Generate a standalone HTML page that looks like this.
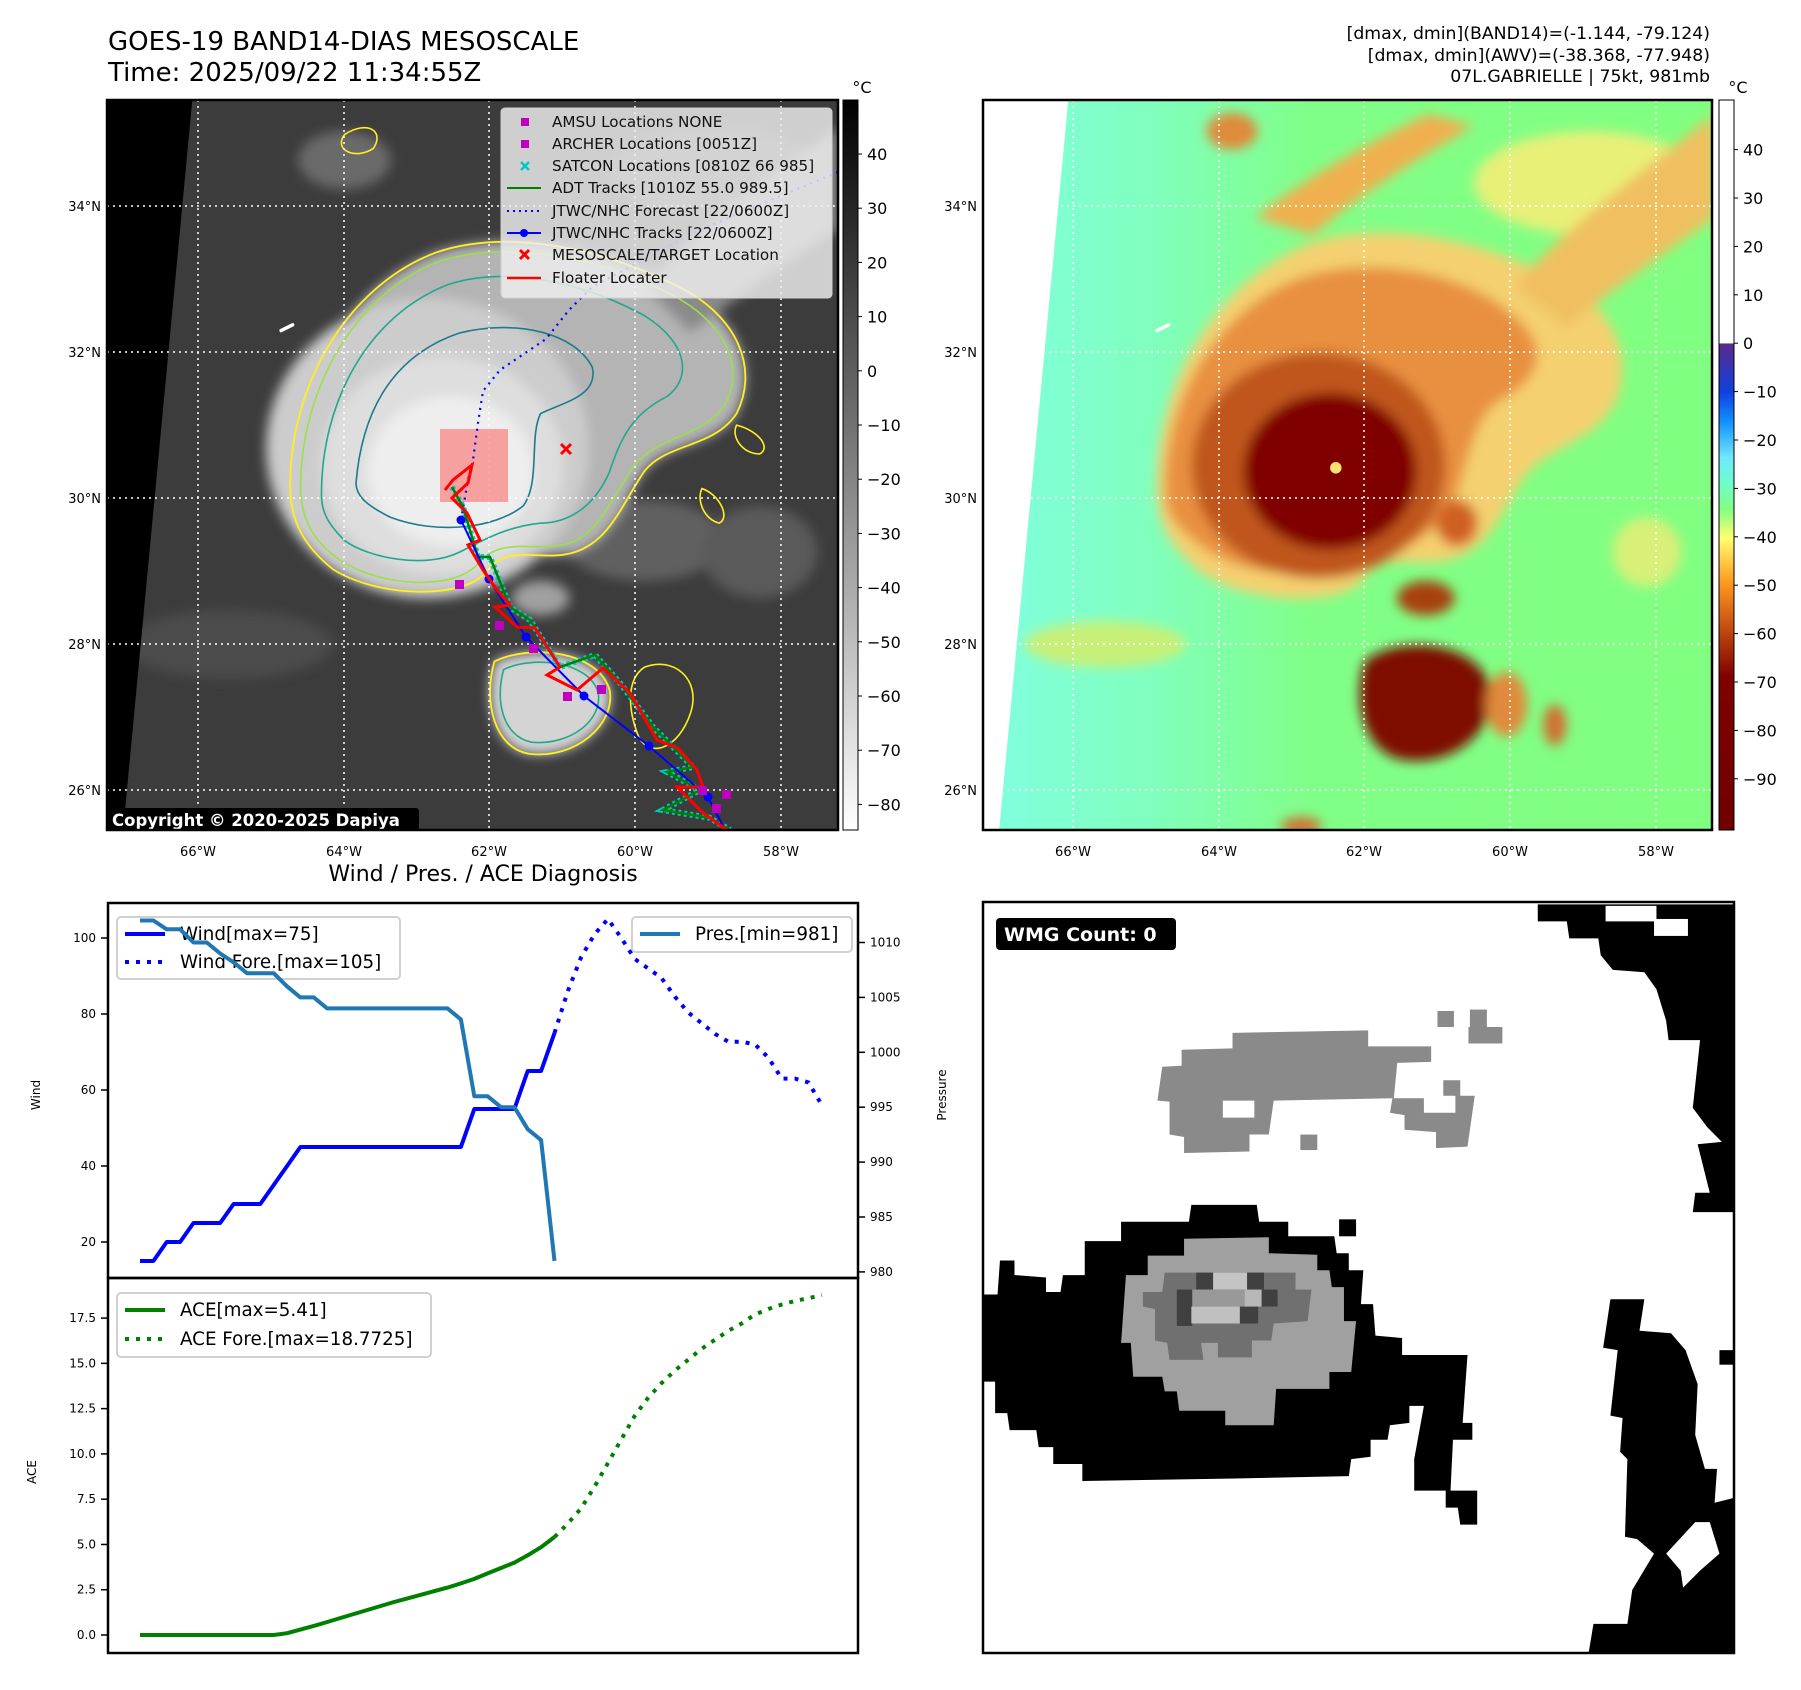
<!DOCTYPE html>
<html><head><meta charset="utf-8">
<style>
html,body{margin:0;padding:0;background:#fff;}
body{width:1801px;height:1690px;overflow:hidden;font-family:"DejaVu Sans","Liberation Sans",sans-serif;}
svg{position:absolute;left:0;top:0;}
text{font-family:"DejaVu Sans","Liberation Sans",sans-serif;}
</style></head>
<body>
<svg id="fig" width="1801" height="1690" viewBox="0 0 1801 1690">
<defs>
  <clipPath id="clipL"><rect x="107" y="100" width="731" height="730"/></clipPath>
  <clipPath id="clipR"><rect x="983" y="100" width="729" height="730"/></clipPath>
  <filter id="blur6" x="-20%" y="-20%" width="140%" height="140%"><feGaussianBlur stdDeviation="5"/></filter>
  <linearGradient id="cbL" x1="0" y1="0" x2="0" y2="1">
    <stop offset="0" stop-color="#000"/><stop offset="1" stop-color="#fff"/>
  </linearGradient>
  <linearGradient id="cbR" x1="0" y1="0" x2="0" y2="1">
    <stop offset="0" stop-color="#fff"/><stop offset="0.333" stop-color="#fff"/>
    <stop offset="0.334" stop-color="#5a2a8a"/>
    <stop offset="0.40" stop-color="#1040e0"/>
    <stop offset="0.44" stop-color="#1090ff"/>
    <stop offset="0.49" stop-color="#70e8ff"/>
    <stop offset="0.53" stop-color="#70ffc0"/>
    <stop offset="0.56" stop-color="#80ff80"/>
    <stop offset="0.60" stop-color="#ffff70"/>
    <stop offset="0.66" stop-color="#ff9a20"/>
    <stop offset="0.72" stop-color="#c85010"/>
    <stop offset="0.79" stop-color="#800000"/>
    <stop offset="1" stop-color="#700000"/>
  </linearGradient>
  <linearGradient id="cyanWash" x1="0" y1="0" x2="1" y2="0">
    <stop offset="0" stop-color="#80ffe0"/><stop offset="0.22" stop-color="#80ffc0"/><stop offset="0.45" stop-color="#80ff88"/><stop offset="1" stop-color="#80ff80"/>
  </linearGradient>
</defs>

<!-- Titles -->
<text x="108" y="50" font-size="26">GOES-19 BAND14-DIAS MESOSCALE</text>
<text x="108" y="81" font-size="26">Time: 2025/09/22 11:34:55Z</text>
<g font-size="17.3" text-anchor="end">
  <text x="1710" y="39">[dmax, dmin](BAND14)=(-1.144, -79.124)</text>
  <text x="1710" y="61">[dmax, dmin](AWV)=(-38.368, -77.948)</text>
  <text x="1710" y="82">07L.GABRIELLE | 75kt, 981mb</text>
</g>

<!-- LEFT MAP -->
<g>
<g clip-path="url(#clipL)">
  <rect x="107" y="100" width="731" height="730" fill="#3c3c3c"/>
  <g transform="translate(107,100) scale(1.153) translate(-94,-88)">
    <g filter="url(#blur6)">
      <ellipse cx="560" cy="470" rx="70" ry="35" fill="#606060"/>
      <ellipse cx="660" cy="480" rx="50" ry="40" fill="#5a5a5a"/>
      <ellipse cx="620" cy="150" rx="90" ry="40" fill="#555"/>
      <ellipse cx="200" cy="560" rx="90" ry="30" fill="#4c4c4c"/>
      <ellipse cx="300" cy="140" rx="40" ry="25" fill="#6a6a6a"/>
      <path d="M253,430 C250,340 300,250 380,220 C440,200 520,215 590,250 C640,275 660,320 640,360 C620,390 580,385 560,410 C540,440 530,470 500,480 C470,490 440,470 420,500 C400,520 330,520 290,495 C265,475 255,455 253,430 Z" fill="#b4b4b4"/>
      <path d="M560,250 C600,200 680,150 728,110 L728,200 C680,230 640,260 600,290 Z" fill="#8a8a8a"/>
      <ellipse cx="372" cy="390" rx="140" ry="130" fill="#cccccc"/>
      <ellipse cx="385" cy="405" rx="105" ry="95" fill="#dedede"/>
      <ellipse cx="392" cy="410" rx="72" ry="65" fill="#eeeeee"/>
      <path d="M430,575 C460,560 520,565 530,600 C535,630 500,660 460,655 C430,650 420,610 430,575 Z" fill="#d4d4d4"/>
      <ellipse cx="470" cy="520" rx="25" ry="15" fill="#a0a0a0"/>
    </g>
    <path d="M253,430 C250,340 300,250 380,220 C440,200 520,215 590,250 C640,275 660,320 640,360 C620,390 580,385 560,410 C540,440 530,470 500,480 C470,490 440,470 420,500 C400,520 330,520 290,495 C265,475 255,455 253,430 Z" fill="none" stroke="#ffee20" stroke-width="1.6"/>
    <path d="M262,430 C260,345 305,258 382,228 C440,210 515,222 582,256 C630,280 648,320 630,352 C612,380 575,378 552,404 C532,432 522,462 496,472 C466,482 436,464 414,492 C394,512 335,512 296,487 C272,470 264,452 262,430 Z" fill="none" stroke="#9be04a" stroke-width="1.4"/>
    <path d="M280,430 C280,350 320,275 390,248 C440,232 505,245 560,275 C600,300 600,330 580,345 C550,360 540,380 530,410 C515,445 490,455 470,455 C440,458 420,470 400,480 C370,495 320,485 300,470 C285,455 280,445 280,430 Z" fill="none" stroke="#22a88a" stroke-width="1.4"/>
    <path d="M310,420 C315,360 340,310 400,290 C450,278 500,290 515,320 C520,345 490,350 470,360 C460,380 470,420 455,440 C430,460 380,465 340,450 C320,440 310,432 310,420 Z" fill="none" stroke="#1f7a8c" stroke-width="1.4"/>
    <path d="M430,575 C460,560 520,565 530,600 C535,630 500,660 460,655 C430,650 420,610 430,575 Z" fill="none" stroke="#ffee20" stroke-width="1.6"/>
    <path d="M438,582 C462,570 512,574 520,602 C524,626 496,648 462,645 C438,640 430,610 438,582 Z" fill="none" stroke="#22a88a" stroke-width="1.4"/>
    <path d="M300,118 C320,105 335,115 325,130 C310,140 290,132 300,118 Z" fill="none" stroke="#ffee20" stroke-width="1.4"/>
    <path d="M640,370 C660,375 670,390 660,395 C645,395 635,380 640,370 Z" fill="none" stroke="#ffee20" stroke-width="1.4"/>
    <path d="M610,425 C625,430 635,450 625,455 C612,452 605,435 610,425 Z" fill="none" stroke="#ffee20" stroke-width="1.4"/>
    <path d="M560,580 C585,570 610,590 600,620 C590,650 565,660 555,640 C545,615 545,590 560,580 Z" fill="none" stroke="#ffee20" stroke-width="1.4"/>
    <path d="M245,288 l10,-5" stroke="#fff" stroke-width="3" stroke-linecap="round"/>
    <polygon points="94,88 168,88 108,721 94,721" fill="#000"/>
  </g>
  <g stroke="#fff" stroke-width="1.5" stroke-dasharray="2,4">
    <line x1="198" y1="100" x2="198" y2="830"/><line x1="344" y1="100" x2="344" y2="830"/>
    <line x1="489" y1="100" x2="489" y2="830"/><line x1="635" y1="100" x2="635" y2="830"/>
    <line x1="781" y1="100" x2="781" y2="830"/>
    <line x1="107" y1="206" x2="838" y2="206"/><line x1="107" y1="352" x2="838" y2="352"/>
    <line x1="107" y1="498" x2="838" y2="498"/><line x1="107" y1="644" x2="838" y2="644"/>
    <line x1="107" y1="790" x2="838" y2="790"/>
  </g>
  <rect x="440" y="429" width="68" height="73" fill="#ff6060" fill-opacity="0.55"/>
  <polyline points="838,172 700,230 592,287 569,310 546,339 500,370 483,391 478,423 473,460 468,480 465,497 461,520" fill="none" stroke="#0000ff" stroke-width="2.2" stroke-dasharray="2,5"/>
  <polyline points="452,487 463,507 478,557 490,557 510,607 530,620 560,667 595,655 620,683 653,727 693,767 667,772 700,790 663,810 710,818 730,830" fill="none" stroke="#00c8c8" stroke-width="6" stroke-dasharray="3,3"/>
  <polyline points="452,487 463,507 478,557 490,557 510,607 530,620 560,667 595,655 620,683 653,727 693,767 667,772 700,790 663,810 710,818 730,830" fill="none" stroke="#008000" stroke-width="2.5"/>
  <polyline points="461,520 489,579 526,637 584,696 649,746 708,797 725,830" fill="none" stroke="#0000ff" stroke-width="2"/>
  <g fill="#0000ff">
    <circle cx="461" cy="520" r="4.5"/><circle cx="489" cy="579" r="4.5"/><circle cx="526" cy="637" r="4.5"/>
    <circle cx="584" cy="696" r="4.5"/><circle cx="649" cy="746" r="4.5"/><circle cx="708" cy="797" r="4.5"/>
  </g>
  <polyline points="445,490 453,480 472,465 468,483 452,498 467,513 480,540 468,545 483,570 497,590 510,605 495,607 517,627 535,628 560,667 547,675 577,690 603,668 630,693 657,740 678,748 697,770 703,787 677,787 703,813 727,830" fill="none" stroke="#ff0000" stroke-width="3"/>
  <g fill="#c000c0">
    <rect x="455" y="580" width="9" height="9"/><rect x="495" y="621" width="9" height="9"/><rect x="529" y="644" width="9" height="9"/>
    <rect x="563" y="692" width="9" height="9"/><rect x="597" y="685" width="9" height="9"/><rect x="712" y="804" width="9" height="9"/>
    <rect x="722" y="790" width="9" height="9"/><rect x="698" y="786" width="9" height="9"/>
  </g>
  <g stroke="#ff0000" stroke-width="3">
    <line x1="561" y1="444" x2="571" y2="454"/><line x1="571" y1="444" x2="561" y2="454"/>
  </g>
  <g>
    <rect x="501" y="108" width="331" height="190" rx="4" fill="#efefef" fill-opacity="0.82" stroke="#d0d0d0"/>
    <rect x="521" y="118" width="8" height="8" fill="#c000c0"/>
    <rect x="521" y="140" width="8" height="8" fill="#c000c0"/>
    <g stroke="#00c8c8" stroke-width="2.5"><line x1="521" y1="162" x2="529" y2="170"/><line x1="529" y1="162" x2="521" y2="170"/></g>
    <line x1="507" y1="188" x2="541" y2="188" stroke="#008000" stroke-width="2"/>
    <line x1="507" y1="211" x2="541" y2="211" stroke="#0000ff" stroke-width="2" stroke-dasharray="2,4"/>
    <line x1="507" y1="233" x2="541" y2="233" stroke="#0000ff" stroke-width="2"/><circle cx="524" cy="233" r="4" fill="#0000ff"/>
    <g stroke="#ff0000" stroke-width="3"><line x1="520" y1="250" x2="529" y2="259"/><line x1="529" y1="250" x2="520" y2="259"/></g>
    <line x1="507" y1="278" x2="541" y2="278" stroke="#ff0000" stroke-width="2.5"/>
    <g font-size="15.2" fill="#111">
      <text x="552" y="127">AMSU Locations NONE</text>
      <text x="552" y="149">ARCHER Locations [0051Z]</text>
      <text x="552" y="171">SATCON Locations [0810Z 66 985]</text>
      <text x="552" y="193">ADT Tracks [1010Z 55.0 989.5]</text>
      <text x="552" y="216">JTWC/NHC Forecast [22/0600Z]</text>
      <text x="552" y="238">JTWC/NHC Tracks [22/0600Z]</text>
      <text x="552" y="260">MESOSCALE/TARGET Location</text>
      <text x="552" y="283">Floater Locater</text>
    </g>
  </g>
  <g>
    <rect x="107" y="808" width="312" height="24" rx="3" fill="#000"/>
    <text x="112" y="826" font-size="16.5" font-weight="bold" fill="#fff">Copyright © 2020-2025 Dapiya</text>
  </g>
</g>
<rect x="107" y="100" width="731" height="730" fill="none" stroke="#000" stroke-width="2.5"/>
<g font-size="13" text-anchor="end">
  <text x="101" y="211">34°N</text><text x="101" y="357">32°N</text><text x="101" y="503">30°N</text><text x="101" y="649">28°N</text><text x="101" y="795">26°N</text>
</g>
<g font-size="13" text-anchor="middle">
  <text x="198" y="856">66°W</text><text x="344" y="856">64°W</text><text x="489" y="856">62°W</text><text x="635" y="856">60°W</text><text x="781" y="856">58°W</text>
</g>
</g>

<g>
  <rect x="843" y="100" width="15" height="730" fill="url(#cbL)" stroke="#000" stroke-width="1"/>
  <text x="862" y="93" font-size="16" text-anchor="middle">°C</text>
  <g font-size="16" id="cbLticks"></g>
</g>

<!-- RIGHT MAP -->
<g>
<g clip-path="url(#clipR)">
  <rect x="983" y="100" width="729" height="730" fill="url(#cyanWash)"/>
  <g transform="translate(983,100) scale(1.153) translate(-94,-88)">
    <g filter="url(#blur6)">
      <ellipse cx="200" cy="560" rx="70" ry="20" fill="#c8f078"/>
      <ellipse cx="620" cy="160" rx="100" ry="45" fill="#e8f078"/>
      <ellipse cx="670" cy="480" rx="30" ry="30" fill="#d8f078"/>
      <path d="M245,430 C242,335 295,245 378,212 C440,192 522,207 594,244 C646,270 660,318 640,355 C620,385 584,390 564,414 C544,444 534,476 502,486 C470,496 442,476 422,506 C402,526 330,526 286,500 C258,478 246,458 245,430 Z" fill="#f4d070"/>
      <path d="M555,250 C600,195 680,140 728,100 L728,190 C680,225 640,252 600,285 Z" fill="#f0c060"/>
      <path d="M330,190 C380,150 440,120 480,100 L520,110 C470,140 420,170 380,205 Z" fill="#f0b050"/>
      <path d="M252,430 C250,345 300,265 375,240 C440,222 520,240 560,280 C590,310 570,335 540,350 C520,365 515,400 505,430 C490,470 450,480 420,490 C380,505 320,500 290,480 C265,462 253,450 252,430 Z" fill="#e89040"/>
      <ellipse cx="385" cy="405" rx="110" ry="98" fill="#c0561c"/>
      <ellipse cx="395" cy="410" rx="75" ry="68" fill="#800000"/>
      <path d="M425,575 C455,550 525,558 534,598 C540,636 500,668 456,660 C424,652 414,610 425,575 Z" fill="#7e1000"/>
      <ellipse cx="478" cy="520" rx="25" ry="15" fill="#a84010"/>
      <ellipse cx="505" cy="455" rx="18" ry="20" fill="#d06020"/>
      <ellipse cx="548" cy="612" rx="18" ry="28" fill="#e08a3a"/>
      <ellipse cx="590" cy="630" rx="10" ry="18" fill="#d07030"/>
      <ellipse cx="310" cy="115" rx="22" ry="16" fill="#e08a3a"/>
      <ellipse cx="370" cy="718" rx="18" ry="8" fill="#d07030"/>
    </g>
    <circle cx="400" cy="407" r="5" fill="#ffe070"/>
    <path d="M245,288 l10,-5" stroke="#fff" stroke-width="3" stroke-linecap="round"/>
    <polygon points="94,88 168,88 108,721 94,721" fill="#fff"/>
  </g>
  <g stroke="#fff" stroke-width="1.5" stroke-dasharray="2,4">
    <line x1="1073" y1="100" x2="1073" y2="830"/><line x1="1219" y1="100" x2="1219" y2="830"/>
    <line x1="1364" y1="100" x2="1364" y2="830"/><line x1="1510" y1="100" x2="1510" y2="830"/>
    <line x1="1656" y1="100" x2="1656" y2="830"/>
    <line x1="983" y1="206" x2="1712" y2="206"/><line x1="983" y1="352" x2="1712" y2="352"/>
    <line x1="983" y1="498" x2="1712" y2="498"/><line x1="983" y1="644" x2="1712" y2="644"/>
    <line x1="983" y1="790" x2="1712" y2="790"/>
  </g>
</g>
<rect x="983" y="100" width="729" height="730" fill="none" stroke="#000" stroke-width="2.5"/>
<g font-size="13" text-anchor="end">
  <text x="977" y="211">34°N</text><text x="977" y="357">32°N</text><text x="977" y="503">30°N</text><text x="977" y="649">28°N</text><text x="977" y="795">26°N</text>
</g>
<g font-size="13" text-anchor="middle">
  <text x="1073" y="856">66°W</text><text x="1219" y="856">64°W</text><text x="1364" y="856">62°W</text><text x="1510" y="856">60°W</text><text x="1656" y="856">58°W</text>
</g>
</g>
<g>
  <rect x="1719" y="100" width="15" height="730" fill="url(#cbR)" stroke="#000" stroke-width="1"/>
  <text x="1738" y="93" font-size="16" text-anchor="middle">°C</text>
  <g font-size="16" id="cbRticks"></g>
</g>

<!-- BOTTOM LEFT CHART -->
<text x="483" y="881" font-size="22" text-anchor="middle">Wind / Pres. / ACE Diagnosis</text>
<g id="chart"></g>

<!-- BOTTOM RIGHT PANEL -->
<g>
  <rect x="983" y="902" width="751" height="751" fill="#fff"/>
  <g transform="translate(983,902) scale(0.4845)">
    <polygon fill="#000" points="1145,5 1550,5 1550,640 1465,640 1470,600 1500,600 1475,500 1525,495 1495,465 1465,425 1480,285 1415,285 1410,245 1390,180 1365,145 1300,140 1275,110 1270,75 1210,75 1205,40 1145,40"/>
    <rect x="1285" y="8" width="105" height="32" fill="#fff"/><rect x="1385" y="35" width="70" height="35" fill="#fff"/>
    <polygon fill="#000" points="1295,820 1365,820 1355,885 1420,890 1450,925 1475,995 1470,1100 1490,1170 1515,1170 1510,1240 1550,1230 1550,1550 1250,1550 1260,1490 1330,1490 1340,1420 1385,1345 1350,1315 1325,1310 1330,1150 1315,1135 1320,1065 1295,1060 1310,925 1280,920"/>
    <polygon fill="#fff" points="1410,1345 1470,1280 1500,1280 1520,1345 1480,1380 1445,1415 1440,1380"/>
    <rect x="1520" y="925" width="30" height="30" fill="#000"/>
    <polygon fill="#000" points="0,810 30,810 35,740 65,740 65,770 130,775 130,805 160,805 165,770 210,770 210,700 285,700 285,660 425,660 430,625 565,625 570,660 630,660 630,690 725,690 730,725 755,725 755,760 785,760 780,830 805,830 810,895 865,900 865,935 1000,935 990,1075 1010,1075 1010,1110 970,1110 965,1215 1020,1215 1020,1285 985,1285 980,1250 955,1250 955,1215 890,1215 890,1150 910,1040 880,1040 880,1075 840,1080 835,1110 800,1110 800,1145 760,1150 755,1185 520,1190 205,1195 205,1160 145,1160 145,1125 115,1125 110,1090 55,1090 50,1055 25,1055 25,990 0,990"/>
    <rect x="735" y="655" width="35" height="35" fill="#000"/>
    <polygon fill="#a0a0a0" points="415,695 590,692 590,725 690,728 690,760 715,760 720,795 745,795 745,865 770,865 760,970 715,970 715,1005 605,1005 600,1080 500,1080 500,1050 405,1050 400,1010 375,1010 370,980 310,980 305,910 285,910 295,770 340,770 340,730 415,730"/>
    <polygon fill="#707070" points="375,765 645,765 645,800 678,800 670,865 600,870 595,905 555,905 555,940 485,940 485,910 450,910 455,945 385,945 380,910 355,905 355,840 330,835 330,805 370,805"/>
    <g fill="#404040"><rect x="440" y="765" width="35" height="35"/><rect x="545" y="765" width="35" height="35"/><rect x="400" y="800" width="32" height="75"/><rect x="575" y="800" width="33" height="35"/><rect x="530" y="835" width="38" height="35"/></g>
    <rect x="475" y="765" width="70" height="35" fill="#c4c4c4"/><rect x="430" y="835" width="100" height="35" fill="#c0c0c0"/>
    <rect x="432" y="800" width="108" height="35" fill="#999"/><rect x="540" y="800" width="35" height="35" fill="#b8b8b8"/>
    <polygon fill="#8a8a8a" points="515,270 795,265 795,298 925,298 925,330 855,332 848,405 910,405 910,435 975,435 975,400 950,400 950,368 985,368 985,400 1015,400 1000,505 935,508 935,475 870,470 870,440 840,435 845,405 600,410 590,480 550,480 550,515 415,518 415,485 385,480 385,412 360,410 370,340 410,338 410,305 515,302"/>
    <rect x="495" y="410" width="65" height="35" fill="#fff"/>
    <g fill="#8a8a8a"><rect x="938" y="225" width="34" height="33"/><rect x="1005" y="222" width="35" height="36"/><rect x="1002" y="258" width="70" height="34"/><rect x="655" y="480" width="35" height="32"/></g>
  </g>
  <rect x="983" y="902" width="751" height="751" fill="none" stroke="#000" stroke-width="2.5"/>
  <g>
    <rect x="996" y="918" width="180" height="32" rx="4" fill="#000"/>
    <text x="1004" y="941" font-size="19" font-weight="bold" fill="#fff">WMG Count: 0</text>
  </g>
</g>
</svg>

<script>
// ===== Chart data =====
var windObs = [15,15,20,20,25,25,25,30,30,30,35,40,45,45,45,45,45,45,45,45,45,45,45,45,45,55,55,55,55,65,65,75];
var windFcst = [75,86,95,101,105,100,94.5,92,89.5,84.6,80.4,77.6,74.8,72.7,72.7,72,68.5,63,63,62,56];
var presObs = [1012,1012,1011.2,1011.2,1010,1010,1009,1008.2,1007.2,1007.2,1007.2,1006,1005,1005,1004,1004,1004,1004,1004,1004,1004,1004,1004,1004,1003,996,996,995,995,993,992,981];
var aceObs = [0,0,0,0,0,0,0,0,0,0,0,0.1,0.3,0.5,0.72,0.94,1.16,1.38,1.6,1.82,2.02,2.22,2.42,2.62,2.85,3.1,3.4,3.7,4.0,4.4,4.85,5.41];
var aceFcst = [5.41,6.15,7.0,8.2,9.5,10.8,12.1,13.1,13.9,14.6,15.2,15.8,16.3,16.8,17.2,17.7,18.0,18.25,18.45,18.6,18.77];
var windTicks = [20,40,60,80,100];
var presTicks = [980,985,990,995,1000,1005,1010];
var aceTicks = [0,2.5,5,7.5,10,12.5,15,17.5];
var cbLeftTicks = [40,30,20,10,0,-10,-20,-30,-40,-50,-60,-70,-80];
var cbRightTicks = [40,30,20,10,0,-10,-20,-30,-40,-50,-60,-70,-80,-90];

var NS = 'http://www.w3.org/2000/svg';
function mk(tag, attrs, parent){var e=document.createElementNS(NS,tag);for(var k in attrs)e.setAttribute(k,attrs[k]);if(parent)parent.appendChild(e);return e;}

var L=108,R=858,T1=903,M=1278,B=1653;
function xI(i){return 140 + i*13.37;}
function yWind(v){return 938 + (100-v)*3.8;}
function yPres(v){return 942.5 + (1010-v)*10.98;}
function yAce(v){return 1635 - v*18.11;}
function yCbL(v){return 154 + (40-v)*5.42;}
function yCbR(v){return 149.6 + (40-v)*4.84;}
function pts(arr, off, yf){var s=[];for(var i=0;i<arr.length;i++)s.push(xI(i+off).toFixed(1)+','+yf(arr[i]).toFixed(1));return s.join(' ');}
function fmtM(v){return (v<0?'\u2212'+(-v):''+v);}

var gl=document.getElementById('cbLticks');
cbLeftTicks.forEach(function(v){
  var t=mk('line',{x1:858,x2:862,y1:yCbL(v),y2:yCbL(v),stroke:'#000','stroke-width':1},gl);
  
  
  var tx=mk('text',{x:867,y:yCbL(v)+6},gl);tx.textContent=fmtM(v);
  
  
});
var gr=document.getElementById('cbRticks');
cbRightTicks.forEach(function(v){
  var t=mk('line',{x1:1734,x2:1738,y1:yCbR(v),y2:yCbR(v),stroke:'#000','stroke-width':1},gr);
  
  
  var tx=mk('text',{x:1743,y:yCbR(v)+6},gr);tx.textContent=fmtM(v);
  
  
});

var g=document.getElementById('chart');
var f1=mk('rect',{x:L,y:T1,width:R-L,height:M-T1,fill:'#fff',stroke:'none'},g);


var f2=mk('rect',{x:L,y:M,width:R-L,height:B-M,fill:'#fff',stroke:'none'},g);



windTicks.forEach(function(v){
  var y=yWind(v);
  var t=mk('line',{x1:L-7,x2:L,y1:y,y2:y,stroke:'#000','stroke-width':1.5},g);
  
  
  var tx=mk('text',{x:L-12,y:y+4,'font-size':12,'text-anchor':'end'},g);tx.textContent=v;
  
  
});
presTicks.forEach(function(v){
  var y=yPres(v);
  var t=mk('line',{x1:R,x2:R+7,y1:y,y2:y,stroke:'#000','stroke-width':1.5},g);
  
  
  var tx=mk('text',{x:R+12,y:y+4,'font-size':12},g);tx.textContent=v;
  
  
});
aceTicks.forEach(function(v){
  var y=yAce(v);
  var t=mk('line',{x1:L-7,x2:L,y1:y,y2:y,stroke:'#000','stroke-width':1.5},g);
  
  
  var tx=mk('text',{x:L-12,y:y+4,'font-size':12,'text-anchor':'end'},g);tx.textContent=v.toFixed(1);
  
  
});
var yl1=mk('text',{x:0,y:0,'font-size':12,'text-anchor':'middle',transform:'translate(40,1095) rotate(-90)'},g);yl1.textContent='Wind';


var yl2=mk('text',{x:0,y:0,'font-size':12,'text-anchor':'middle',transform:'translate(946,1095) rotate(-90)'},g);yl2.textContent='Pressure';


var yl3=mk('text',{x:0,y:0,'font-size':12,'text-anchor':'middle',transform:'translate(36,1472) rotate(-90)'},g);yl3.textContent='ACE';



var wl=mk('polyline',{points:pts(windObs,0,yWind),fill:'none',stroke:'#0000ff','stroke-width':4,'stroke-linejoin':'round'},g);


var wf=mk('polyline',{points:pts(windFcst,windObs.length-1,yWind),fill:'none',stroke:'#0000ff','stroke-width':4,'stroke-dasharray':'4,7'},g);



var lg=mk('g',{},g);


mk('rect',{x:117,y:917,width:283,height:62,rx:4,fill:'#fff','fill-opacity':0.8,stroke:'#d0d0d0','stroke-width':2},lg);
mk('line',{x1:125,x2:165,y1:934,y2:934,stroke:'#0000ff','stroke-width':4},lg);
mk('line',{x1:125,x2:165,y1:962,y2:962,stroke:'#0000ff','stroke-width':4,'stroke-dasharray':'4,7'},lg);
var t1=mk('text',{x:180,y:940,'font-size':18.3},lg);t1.textContent='Wind[max=75]';
var t2=mk('text',{x:180,y:968,'font-size':18.3},lg);t2.textContent='Wind Fore.[max=105]';

var pl=mk('polyline',{points:pts(presObs,0,yPres),fill:'none',stroke:'#1f77b4','stroke-width':4,'stroke-linejoin':'round'},g);


var pg=mk('g',{},g);


mk('rect',{x:632,y:917,width:220,height:35,rx:4,fill:'#fff','fill-opacity':0.8,stroke:'#d0d0d0','stroke-width':2},pg);
mk('line',{x1:640,x2:680,y1:934,y2:934,stroke:'#1f77b4','stroke-width':4},pg);
var t3=mk('text',{x:695,y:940,'font-size':18.3},pg);t3.textContent='Pres.[min=981]';

var al=mk('polyline',{points:pts(aceObs,0,yAce),fill:'none',stroke:'#008000','stroke-width':4,'stroke-linejoin':'round'},g);


var af=mk('polyline',{points:pts(aceFcst,aceObs.length-1,yAce),fill:'none',stroke:'#008000','stroke-width':4,'stroke-dasharray':'4,7'},g);


var ag=mk('g',{},g);


mk('rect',{x:117,y:1293,width:314,height:64,rx:4,fill:'#fff','fill-opacity':0.8,stroke:'#d0d0d0','stroke-width':2},ag);
mk('line',{x1:125,x2:165,y1:1310,y2:1310,stroke:'#008000','stroke-width':4},ag);
mk('line',{x1:125,x2:165,y1:1339,y2:1339,stroke:'#008000','stroke-width':4,'stroke-dasharray':'4,7'},ag);
var t4=mk('text',{x:180,y:1316,'font-size':18.3},ag);t4.textContent='ACE[max=5.41]';
var t5=mk('text',{x:180,y:1345,'font-size':18.3},ag);t5.textContent='ACE Fore.[max=18.7725]';

var b1=mk('rect',{x:L,y:T1,width:R-L,height:M-T1,fill:'none',stroke:'#000','stroke-width':2.5},g);


var b2=mk('rect',{x:L,y:M,width:R-L,height:B-M,fill:'none',stroke:'#000','stroke-width':2.5},g);


</script>
</body></html>
